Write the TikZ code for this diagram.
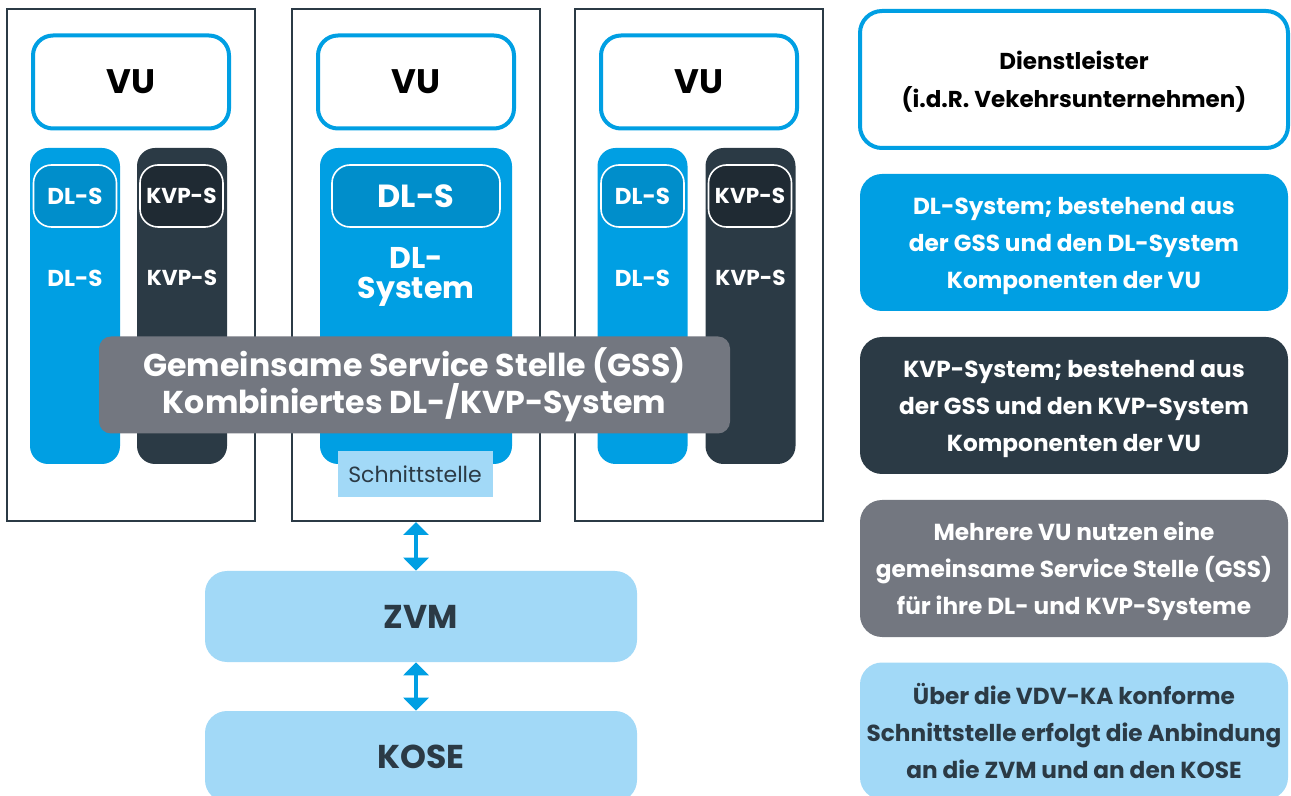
\documentclass[tikz,border=0pt]{standalone}
\usepackage{fontspec}
\setmainfont{Poppins}
\usetikzlibrary{arrows.meta,positioning}

\definecolor{vublue}{HTML}{009FE3}
\definecolor{vudark}{HTML}{2B3A45}
\definecolor{gssgray}{HTML}{737780}
\definecolor{ifblue}{HTML}{A2D9F7}
\definecolor{pillblue}{HTML}{008ECB}
\definecolor{pilldark}{HTML}{1F2A33}

\begin{document}
\begin{tikzpicture}[x=0.5pt, y=-0.5pt,
    frame/.style={rectangle, draw=vudark, line width=1pt, minimum width=124pt, minimum height=256pt, inner sep=0pt},
    vu/.style={rectangle, rounded corners=10pt, draw=vublue, line width=2pt, fill=white, minimum width=98pt, minimum height=46.5pt, font=\fontsize{17}{20}\selectfont\bfseries},
    dlcol/.style={rectangle, rounded corners=9pt, fill=vublue, minimum width=45pt, minimum height=158pt, inner sep=0pt},
    kvpcol/.style={dlcol, fill=vudark},
    pill/.style={rectangle, rounded corners=9pt, draw=white, line width=0.8pt, fill=pillblue, minimum width=41.5pt, minimum height=31pt, inner sep=0pt, text=white, font=\fontsize{11.5}{13}\selectfont\bfseries},
    kvppill/.style={pill, fill=pilldark, font=\fontsize{10.8}{13}\selectfont\bfseries},
    collabel/.style={inner sep=0pt, text=white, font=\fontsize{11.5}{13}\selectfont\bfseries},
    gss/.style={rectangle, rounded corners=6pt, fill=gssgray, minimum width=315.5pt, minimum height=48.5pt, align=center, text=white, font=\fontsize{15.8}{18.5}\selectfont\bfseries},
    iface/.style={rectangle, fill=ifblue, minimum width=77.5pt, minimum height=23pt, inner sep=0pt, text=vudark, font=\fontsize{11}{13}\selectfont},
    target/.style={rectangle, rounded corners=11pt, fill=ifblue, minimum width=216pt, minimum height=45.5pt, text=vudark, font=\fontsize{16.5}{19}\selectfont\bfseries},
    legend/.style={rectangle, rounded corners=11pt, minimum width=214pt, minimum height=68.5pt, align=center, text=white, font=\fontsize{11.6}{18.5}\selectfont\bfseries},
    link/.style={vublue, line width=2pt, {Triangle[width=12.5pt,length=6.5pt]}-{Triangle[width=12.5pt,length=6.5pt]}}
]
\useasboundingbox (0,0) rectangle (1291,796);

% the three VU frames
\node[frame] (frameA) at (131,265) {};
\node[frame] (frameB) at (416,265) {};
\node[frame] (frameC) at (699,265) {};

\node[vu] (vuA) at (131,82) {VU};
\node[vu] (vuB) at (416,82) {VU};
\node[vu] (vuC) at (699,82) {VU};

% separate DL / KVP systems
\node[dlcol] (dlcolA) at (75,306) {};
\node[kvpcol] (kvpcolA) at (182,306) {};
\node[pill] (dlsA) at (75,196) {DL-S};
\node[kvppill] (kvpsA) at (181.5,196) {KVP-S};
\node[collabel] (dllabA) at (75,278) {DL-S};
\node[collabel, font=\fontsize{10.8}{13}\selectfont\bfseries] (kvplabA) at (182,278) {KVP-S};

\node[dlcol] (dlcolC) at (642.5,306) {};
\node[kvpcol] (kvpcolC) at (750.5,306) {};
\node[pill] (dlsC) at (642.5,196) {DL-S};
\node[kvppill] (kvpsC) at (750,196) {KVP-S};
\node[collabel] (dllabC) at (642.5,278) {DL-S};
\node[collabel, font=\fontsize{10.8}{13}\selectfont\bfseries] (kvplabC) at (750.5,278) {KVP-S};

% DL-System in the middle frame
\node[dlcol, minimum width=96pt] (dlsys) at (416,306) {};
\node[pill, minimum width=84pt, font=\fontsize{16}{18}\selectfont\bfseries] (dlsB) at (416,196) {DL-S};
\node[collabel, align=center, font=\fontsize{15}{15}\selectfont\bfseries] (dlsyslab) at (416,277) {DL-\\System};

\node[gss] (gss) at (414.5,385) {Gemeinsame Service Stelle (GSS)\\Kombiniertes DL-/KVP-System};
\node[iface] (iface) at (415,474) {Schnittstelle};

\node[target] (zvm) at (421,616.5) {ZVM};
\node[target] (kose) at (421,756.5) {KOSE};

\draw[link] (frameB.south) -- (frameB.south |- zvm.north);
\draw[link] (frameB.south |- zvm.south) -- (frameB.south |- kose.north);

% legend
\node[legend, fill=white, draw=vublue, line width=2pt, text=black, text depth=0pt, font=\fontsize{11.5}{19}\selectfont\bfseries] (legvu) at (1074,79.5) {Dienstleister\\(i.d.R. Vekehrsunternehmen)};
\node[legend, fill=vublue, text depth=0pt] (legdl) at (1074,242.5) {DL-System; bestehend aus\\der GSS und den DL-System\\Komponenten der VU};
\node[legend, fill=vudark, text depth=0pt] (legkvp) at (1074,405.5) {KVP-System; bestehend aus\\der GSS und den KVP-System\\Komponenten der VU};
\node[legend, fill=gssgray, text depth=0pt] (leggss) at (1074,568.5) {Mehrere VU nutzen eine\\gemeinsame Service Stelle (GSS)\\für ihre DL- und KVP-Systeme};
\node[legend, fill=ifblue, text=vudark, text depth=0pt] (legif) at (1074,731) {Über die VDV-KA konforme\\Schnittstelle erfolgt die Anbindung\\an die ZVM und an den KOSE};
\end{tikzpicture}
\end{document}
